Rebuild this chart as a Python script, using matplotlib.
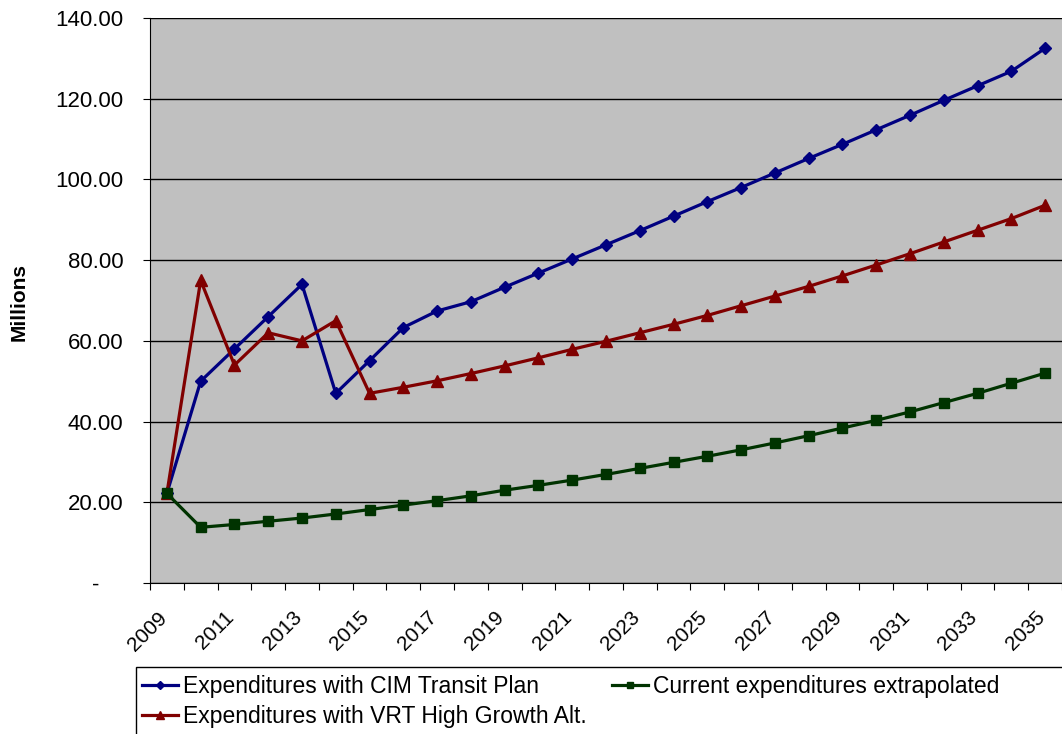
import matplotlib
matplotlib.use("Agg")
import matplotlib.pyplot as plt
import matplotlib.transforms as mtrans
from matplotlib.patches import Rectangle
from matplotlib.ticker import FixedLocator, FuncFormatter

# ---------------------------
# datos (millones)
# ---------------------------
years = list(range(2009, 2036))

cim_plan = [22.2, 50.0, 58.0, 66.0, 74.0, 47.0, 55.1, 63.3, 67.4, 69.7,
            73.3, 76.8, 80.3, 83.8, 87.3, 90.9, 94.5, 98.0, 101.6, 105.2,
            108.7, 112.3, 115.9, 119.6, 123.2, 126.8, 132.5]

vrt_high = [22.2, 75.0, 54.0, 62.0, 60.0, 65.0, 47.0, 48.5, 50.1, 51.9,
            53.8, 55.8, 57.9, 59.9, 62.0, 64.1, 66.3, 68.7, 71.1, 73.5,
            76.1, 78.8, 81.6, 84.5, 87.4, 90.3, 93.6]

current = [22.2, 13.8, 14.5, 15.3, 16.1, 17.1, 18.2, 19.3, 20.4, 21.6,
           23.0, 24.2, 25.5, 26.9, 28.4, 29.9, 31.4, 33.0, 34.7, 36.5,
           38.4, 40.3, 42.4, 44.7, 47.0, 49.5, 52.0]

labels = ["Expenditures with CIM Transit Plan",
          "Expenditures with VRT High Growth Alt.",
          "Current expenditures extrapolated"]

plt.rcParams["font.family"] = ["Liberation Sans", "DejaVu Sans"]

W, H = 1062, 734
fig = plt.figure(figsize=(W / 100, H / 100), dpi=100)
ax = fig.add_axes([150 / W, 1 - 583 / H, 912 / W, 565 / H])
ax.set_facecolor("#C0C0C0")

l1, = ax.plot(years, cim_plan, color="#000080", lw=2.3, marker="D", ms=6,
              label=labels[0])
l2, = ax.plot(years, vrt_high, color="#800000", lw=2.3, marker="^", ms=8,
              label=labels[1])
l3, = ax.plot(years, current, color="#003300", lw=2.3, marker="s", ms=7,
              label=labels[2])

ax.set_xlim(2008.5, 2035.5)
ax.set_ylim(0, 140)

# ---------------------------
# eje y
# ---------------------------
ax.set_yticks(range(0, 141, 20))
ax.yaxis.set_major_formatter(
    FuncFormatter(lambda v, p: "-    " if v == 0 else f"{v:.2f}"))
ax.grid(axis="y", color="black", lw=1)
ax.set_axisbelow(True)
ax.tick_params(axis="y", direction="out", length=5, labelsize=16, pad=14)

# ---------------------------
# eje x: marcas entre categorias, etiquetas en el centro
# ---------------------------
ax.xaxis.set_major_locator(FixedLocator([y - 0.5 for y in years] + [2035.5]))
ax.xaxis.set_major_formatter(FuncFormatter(lambda v, p: ""))
ax.xaxis.set_minor_locator(FixedLocator(years[::2]))
ax.xaxis.set_minor_formatter(FuncFormatter(lambda v, p: f"{int(round(v))}"))
ax.tick_params(axis="x", which="major", direction="out", length=5)
ax.tick_params(axis="x", which="minor", length=0, labelsize=15, pad=18)
shift = mtrans.ScaledTranslation(-10 / 100, 0, fig.dpi_scale_trans)
for t in ax.xaxis.get_minorticklabels():
    t.set_rotation(45)
    t.set_ha("right")
    t.set_rotation_mode("anchor")
    t.set_transform(t.get_transform() + shift)

for s in ["top", "right"]:
    ax.spines[s].set_visible(False)

fig.text(19 / W, 1 - 302 / H, "Millions", rotation=90, fontsize=15,
         fontweight="bold", ha="center", va="center")

# ---------------------------
# leyenda (el recuadro se sale de la figura)
# ---------------------------
fig.patches.append(Rectangle((136 / W, -0.05), 1.0, 1 - 667 / H + 0.05,
                             transform=fig.transFigure, facecolor="white",
                             edgecolor="black", lw=1, zorder=0))
fig.legend(handles=[l1, l2, l3], labels=labels, ncol=2,
           loc="upper left", bbox_to_anchor=(142 / W, 1 - 675 / H),
           fontsize=16.5, frameon=False, borderpad=0, borderaxespad=0,
           handlelength=1.57, handletextpad=0.22, columnspacing=1.1,
           labelspacing=0.3, markerscale=0.7)

fig.savefig("out.png", dpi=100)
